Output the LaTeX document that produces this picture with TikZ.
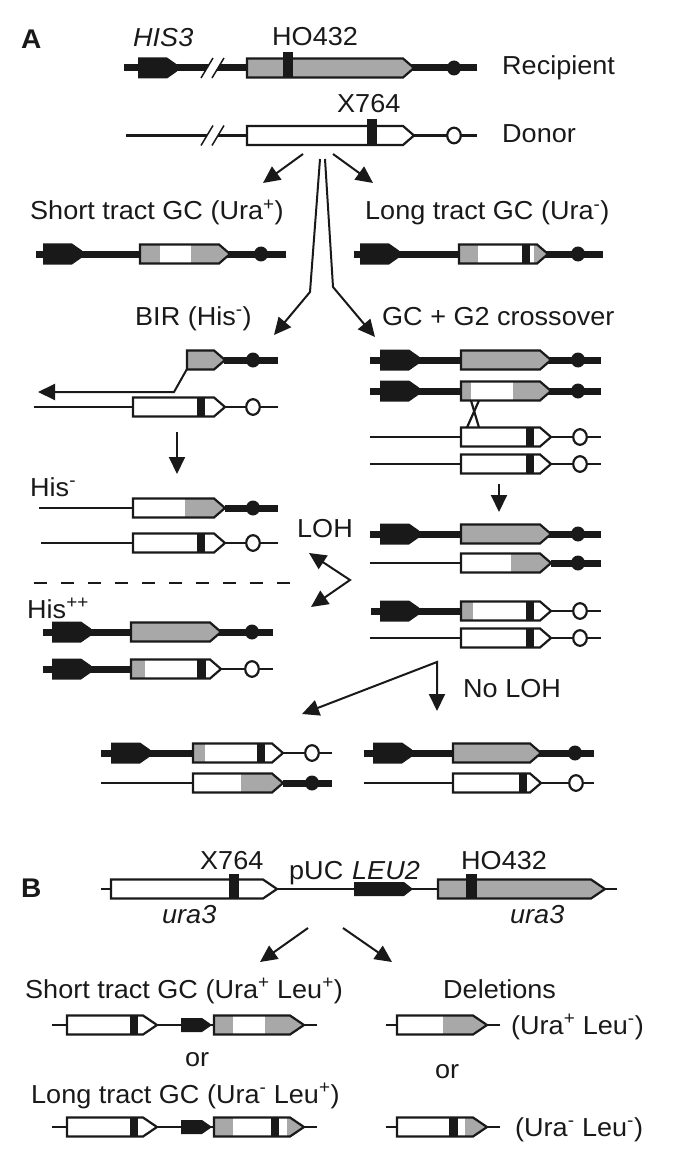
\documentclass[tikz,border=0pt]{standalone}
\usepackage{fontspec}
\setmainfont[FakeStretch=1.04]{Liberation Sans}
\usetikzlibrary{arrows.meta}
\definecolor{ggray}{RGB}{168,168,168}
\definecolor{blk}{RGB}{25,25,25}
\tikzset{
  thickl/.style={line width=7pt, draw=blk},
  thinl/.style={line width=2.4pt, draw=blk},
  outl/.style={line width=2.2pt, draw=blk, line join=miter},
  arr/.style={line width=2pt, draw=blk, -{Triangle[length=17pt,width=16pt]}},
  arrb/.style={line width=2pt, draw=blk, {Triangle[length=17pt,width=16pt]}-{Triangle[length=17pt,width=16pt]}},
  lbl/.style={inner sep=0pt, anchor=base west, font=\fontsize{26}{30}\selectfont, text=blk},
  lblb/.style={lbl, font=\fontsize{27}{30}\selectfont\bfseries},
  lbli/.style={lbl, font=\fontsize{26}{30}\selectfont\itshape},
}
\newcommand\gtip{11}
\newcommand\tkline[3]{\draw[thickl] (#1,#3) -- (#2,#3);}
\newcommand\tnline[3]{\draw[thinl] (#1,#3) -- (#2,#3);}
\newcommand\hisblk[2]{\fill[blk] (#1,#2-10.5) -- (#1+29,#2-10.5) -- (#1+39,#2-3.5) -- (#1+39,#2+3.5) -- (#1+29,#2+10.5) -- (#1,#2+10.5) -- cycle;}
\newcommand\bdot[2]{\fill[blk] (#1,#2) ellipse [x radius=7pt, y radius=7.5pt];}
\newcommand\wdot[2]{\draw[outl,fill=white] (#1,#2) ellipse [x radius=6.8pt, y radius=7.8pt];}
\newcommand\gseg[3]{\fill[ggray] (#1,#3-11) rectangle (#2,#3+11);}
\newcommand\gmark[3]{\fill[blk] (#1,#3-11) rectangle (#2,#3+11);}
\newcommand\gbox[5]{%
  \begin{scope}
    \clip (#1,#3-9.5) -- (#2-\gtip,#3-9.5) -- (#2,#3) -- (#2-\gtip,#3+9.5) -- (#1,#3+9.5) -- cycle;
    \fill[#4] (#1-1,#3-11) rectangle (#2+1,#3+11);
    #5
  \end{scope}
  \draw[outl] (#1,#3-9.5) -- (#2-\gtip,#3-9.5) -- (#2,#3) -- (#2-\gtip,#3+9.5) -- (#1,#3+9.5) -- cycle;}
\newcommand\gbreak[1]{%
  \fill[white] (201,#1+10) -- (213,#1-10) -- (224,#1-10) -- (212,#1+10) -- cycle;
  \draw[line width=1.5pt, draw=blk] (201,#1+10) -- (213,#1-10);
  \draw[line width=1.5pt, draw=blk] (212,#1+10) -- (224,#1-10);}
\newcommand\leublk[4]{\fill[blk] (#1,#4-7) -- (#2,#4-7) -- (#3,#4) -- (#2,#4+7) -- (#1,#4+7) -- cycle;}

\begin{document}
\begin{tikzpicture}[x=1pt,y=-1pt]
\useasboundingbox (0,0) rectangle (682,1158);

% ---------------- Panel A: recipient and donor
\node[lblb] (labA) at (21,49) {A};
\node[lbli] (his3) at (133,47) {HIS3};
\node[lbl] (ho432) at (272,46) {HO432};
\node[lbl] (recip) at (502,75) {Recipient};
\node[lbl] (x764) at (337,113) {X764};
\node[lbl] (donor) at (502,143) {Donor};

\tkline{124}{477}{68}
\hisblk{138}{68}
\gbreak{68}
\gbox{247}{414}{68}{ggray}{}
\fill[blk] (283,52) rectangle (293,77.5);
\bdot{454}{68}

\tnline{126}{477}{135.5}
\gbreak{135.5}
\gbox{247}{414}{135.5}{white}{}
\fill[blk] (367,119) rectangle (377,145);
\wdot{454}{135.5}

% arrows from donor
\coordinate (a1s) at (303,154); \coordinate (a1e) at (263,183);
\coordinate (a2s) at (333,154); \coordinate (a2e) at (373,183);
\coordinate (m1s) at (320,159); \coordinate (m1k) at (310,292); \coordinate (m1e) at (274,335);
\coordinate (m2s) at (325,159); \coordinate (m2k) at (333,287); \coordinate (m2e) at (375,337);
\draw[arr] (a1s) -- (a1e);
\draw[arr] (a2s) -- (a2e);
\draw[arr] (m1s) -- (m1k) -- (m1e);
\draw[arr] (m2s) -- (m2k) -- (m2e);

% ---------------- GC outcomes
\node[lbl] (stgc) at (30,220) {Short tract GC (Ura\textsuperscript{+})};
\node[lbl] (ltgc) at (365,220) {Long tract GC (Ura\textsuperscript{-})};

\tkline{36}{286}{254}
\hisblk{43}{254}
\gbox{140}{230}{254}{white}{\gseg{140}{160}{254}\gseg{191}{240}{254}}
\bdot{261}{254}

\tkline{354}{603}{254}
\hisblk{360}{254}
\gbox{459}{548}{254}{white}{\gseg{459}{478}{254}\gmark{522}{530}{254}\gseg{534}{560}{254}}
\bdot{578}{254}

% ---------------- BIR
\node[lbl] (bir) at (135,325) {BIR (His\textsuperscript{-})};
\node[lbl] (gcg2) at (382,325) {GC + G2 crossover};

\tkline{224}{278}{360}
\gbox{187}{225}{360}{ggray}{}
\bdot{253}{360}
\coordinate (b1) at (187,369); \coordinate (b2) at (174,392); \coordinate (b3) at (38,392);
\draw[arr] (b1) -- (b2) -- (b3);

\tnline{34}{278}{407}
\gbox{133}{225}{407}{white}{\gmark{197}{205}{407}}
\wdot{253}{407}

\coordinate (d1s) at (177,432); \coordinate (d1e) at (177,474);
\draw[arr] (d1s) -- (d1e);

\node[lbl] (hism) at (30,496) {His\textsuperscript{-}};
\tnline{39}{133}{508}
\tkline{225}{278}{508}
\gbox{133}{225}{508}{white}{\gseg{185}{235}{508}}
\bdot{253}{508}

\tnline{41}{278}{543}
\gbox{133}{225}{543}{white}{\gmark{197}{205}{543}}
\wdot{253}{543}

\node[lbl] (loh) at (297,537) {LOH};
\coordinate (l1) at (309,553); \coordinate (lv) at (350,580); \coordinate (l2) at (311,607);
\draw[arrb] (l1) -- (lv) -- (l2);

\coordinate (ds) at (34,583); \coordinate (de) at (300,583);
\draw[line width=2.5pt, draw=blk, dash pattern=on 13pt off 14pt] (ds) -- (de);

\node[lbl] (hispp) at (27,618) {His\textsuperscript{++}};
\tkline{43}{273}{632}
\hisblk{52}{632}
\gbox{131}{221}{632}{ggray}{}
\bdot{252}{632}

\tkline{43}{131}{669}
\tnline{221}{273}{669}
\hisblk{52}{669}
\gbox{131}{221}{669}{white}{\gseg{131}{145}{669}\gmark{197}{206}{669}}
\wdot{252}{669}

% ---------------- GC + G2 crossover column
\tkline{370}{601}{360}
\hisblk{380}{360}
\gbox{461}{551}{360}{ggray}{}
\bdot{578}{360}

\tkline{370}{601}{391}
\hisblk{380}{391}
\gbox{461}{551}{391}{white}{\gseg{461}{471}{391}\gseg{513}{560}{391}}
\bdot{578}{391}

\tnline{370}{601}{437}
\gbox{461}{551}{437}{white}{\gmark{526}{534}{437}}
\wdot{580}{437}

\tnline{370}{601}{464}
\gbox{461}{551}{464}{white}{\gmark{526}{534}{464}}
\wdot{580}{464}

\coordinate (x1a) at (471,400.5); \coordinate (x1b) at (479,427.5);
\coordinate (x2a) at (479,400.5); \coordinate (x2b) at (467,427.5);
\draw[outl] (x1a) -- (x1b);
\draw[outl] (x2a) -- (x2b);

\coordinate (d2s) at (499,484); \coordinate (d2e) at (499,512);
\draw[arr] (d2s) -- (d2e);

\tkline{370}{601}{534}
\hisblk{380}{534}
\gbox{461}{551}{534}{ggray}{}
\bdot{578}{534}

\tnline{370}{461}{563}
\tkline{551}{601}{563}
\gbox{461}{551}{563}{white}{\gseg{511}{560}{563}}
\bdot{578}{563}

\tkline{371}{461}{611}
\tnline{551}{601}{611}
\hisblk{380}{611}
\gbox{461}{551}{611}{white}{\gseg{461}{473}{611}\gmark{526}{534}{611}}
\wdot{580}{611}

\tnline{370}{601}{638}
\gbox{461}{551}{638}{white}{\gmark{526}{534}{638}}
\wdot{580}{638}

\node[lbl] (nloh) at (463,697) {No LOH};
\coordinate (nv) at (437,662); \coordinate (n1) at (302,714); \coordinate (n2) at (437,711);
\draw[arrb] (n1) -- (nv) -- (n2);

% bottom pairs
\tkline{101}{193}{753}
\tnline{283}{332}{753}
\hisblk{111}{753}
\gbox{193}{283}{753}{white}{\gseg{193}{205}{753}\gmark{257}{265}{753}}
\wdot{312}{753}

\tnline{101}{193}{783}
\tkline{283}{332}{783}
\gbox{193}{283}{783}{white}{\gseg{241}{290}{783}}
\bdot{312}{783}

\tkline{364}{594}{753}
\hisblk{373}{753}
\gbox{453}{541}{753}{ggray}{}
\bdot{575}{753}

\tnline{364}{594}{783}
\gbox{453}{541}{783}{white}{\gmark{519}{527}{783}}
\wdot{576}{783}

% ---------------- Panel B
\renewcommand\gtip{14}
\node[lblb] (labB) at (21,897) {B};
\node[lbl] (bx764) at (200,869) {X764};
\node[lbl] (puc) at (289,879) {pUC};
\node[lbli] (leu2) at (352,879) {LEU2};
\node[lbl] (bho432) at (461,869) {HO432};

\tnline{101}{617}{889}
\gbox{111}{277}{889}{white}{}
\fill[blk] (229,874) rectangle (239,898.5);
\leublk{354}{404}{413}{889}
\gbox{438}{605}{889}{ggray}{}
\fill[blk] (466,874) rectangle (477,898.5);

\node[lbli] (ura3a) at (162,923) {ura3};
\node[lbli] (ura3b) at (510,923) {ura3};

\coordinate (e1s) at (308,928); \coordinate (e1e) at (260,962);
\coordinate (e2s) at (343,928); \coordinate (e2e) at (392,962);
\draw[arr] (e1s) -- (e1e);
\draw[arr] (e2s) -- (e2e);

\node[lbl] (bst) at (25,998) {Short tract GC (Ura\textsuperscript{+} Leu\textsuperscript{+})};
\node[lbl] (bdel) at (443,998) {Deletions};

\tnline{52}{317}{1025}
\gbox{67}{157}{1025}{white}{\gmark{130}{138}{1025}}
\leublk{181}{202}{212}{1025}
\gbox{214}{304}{1025}{white}{\gseg{214}{233}{1025}\gseg{265}{310}{1025}}

\tnline{386}{500}{1025}
\gbox{397}{487}{1025}{white}{\gseg{443}{495}{1025}}
\node[lbl] (upl) at (511,1034) {(Ura\textsuperscript{+} Leu\textsuperscript{-})};

\node[lbl] (or1) at (185,1066) {or};
\node[lbl] (or2) at (435,1078) {or};

\node[lbl] (blt) at (31,1103) {Long tract GC (Ura\textsuperscript{-} Leu\textsuperscript{+})};
\tnline{52}{317}{1127}
\gbox{67}{157}{1127}{white}{\gmark{130}{138}{1127}}
\leublk{181}{202}{212}{1127}
\gbox{214}{304}{1127}{white}{\gseg{214}{233}{1127}\gmark{271}{279}{1127}\gseg{287}{310}{1127}}

\tnline{386}{500}{1127}
\gbox{397}{487}{1127}{white}{\gmark{449}{458}{1127}\gseg{465}{495}{1127}}
\node[lbl] (uml) at (515,1136) {(Ura\textsuperscript{-} Leu\textsuperscript{-})};

\end{tikzpicture}
\end{document}
